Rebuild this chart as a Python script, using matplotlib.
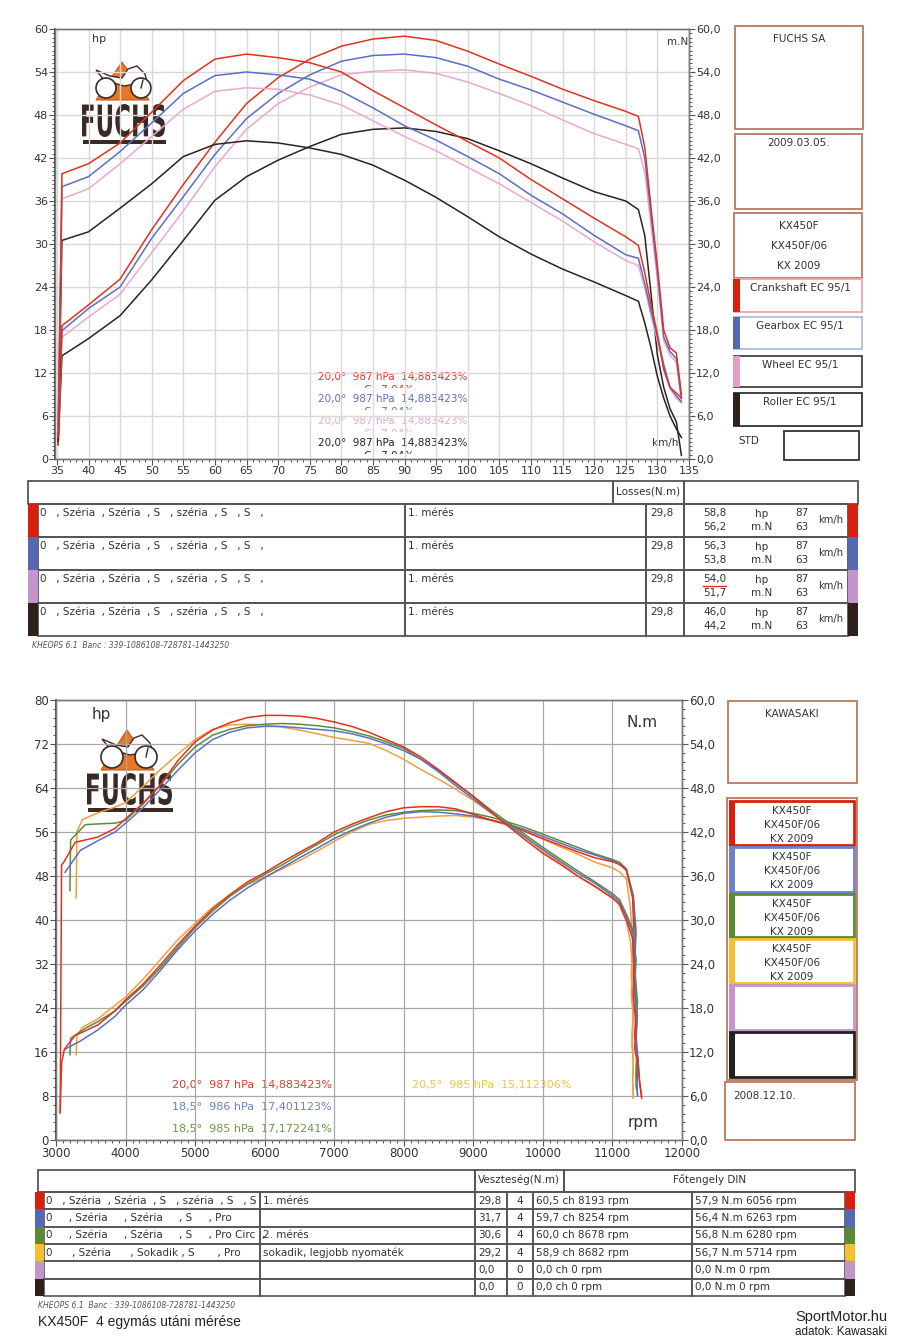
import numpy as np
import matplotlib.pyplot as plt
from matplotlib.patches import Rectangle, Polygon, Circle, PathPatch
from matplotlib.textpath import TextPath
from matplotlib.font_manager import FontProperties
from matplotlib.transforms import Affine2D
from matplotlib.ticker import MultipleLocator, FuncFormatter

# Chart 1 data (km/h, hp on left axis, m.N on right axis)_______________________
kmh = [35.2, 35.8, 40, 45, 50, 55, 60, 65, 70, 75, 80, 85, 90, 95, 100, 105,
       110, 115, 120, 125, 127, 128, 129, 130, 131, 132, 133, 133.8]
hp_crank = [2.0, 18.6, 21.5, 25.1, 32.0, 38.3, 44.2, 49.6, 53.2, 55.8, 57.6, 58.6, 59.0, 58.4,
            56.9, 55.1, 53.4, 51.6, 50.0, 48.5, 47.8, 43.5, 35.0, 27.0, 18.0, 15.5, 14.8, 9.0]
tq_crank = [3.0, 39.8, 41.2, 44.1, 48.4, 52.8, 55.8, 56.5, 56.0, 55.3, 54.0, 51.4, 49.0, 46.6,
            44.3, 42.0, 39.0, 36.3, 33.6, 31.0, 29.8, 26.0, 21.5, 17.5, 12.5, 10.0, 9.2, 8.5]
hp_gear = [3.0, 17.9, 21.0, 24.0, 30.8, 36.6, 42.5, 47.5, 51.0, 53.6, 55.5, 56.3, 56.5, 56.0,
           54.8, 53.0, 51.5, 49.8, 48.1, 46.5, 45.8, 42.0, 34.0, 26.0, 17.0, 15.0, 14.0, 8.5]
tq_gear = [4.5, 38.0, 39.4, 42.9, 46.9, 51.0, 53.5, 54.0, 53.6, 53.0, 51.3, 49.0, 46.5, 44.5,
           42.2, 39.8, 36.8, 34.2, 31.2, 28.5, 28.0, 24.5, 20.6, 17.0, 13.2, 10.0, 8.8, 8.0]
hp_wheel = [3.0, 17.0, 19.8, 23.0, 28.8, 34.6, 40.8, 46.0, 49.6, 51.9, 53.6, 54.1, 54.3, 53.8,
            52.6, 51.0, 49.3, 47.3, 45.4, 43.9, 43.3, 40.0, 32.5, 25.0, 16.5, 14.5, 13.5, 8.0]
tq_wheel = [4.0, 36.3, 37.7, 41.2, 45.0, 48.8, 51.3, 51.8, 51.6, 50.8, 49.4, 47.2, 45.0, 43.0,
            40.7, 38.4, 35.8, 33.2, 30.3, 27.7, 27.0, 23.8, 20.0, 16.5, 12.8, 9.8, 8.5, 7.8]
hp_roller = [2.0, 14.4, 16.8, 20.0, 25.0, 30.5, 36.1, 39.4, 41.7, 43.6, 45.3, 46.0, 46.2, 45.7,
             44.7, 43.0, 41.2, 39.2, 37.3, 36.0, 34.8, 31.2, 23.0, 14.5, 10.0, 7.0, 5.2, 0.5]
tq_roller = [2.5, 30.5, 31.7, 35.0, 38.4, 42.2, 43.9, 44.4, 44.1, 43.4, 42.5, 41.0, 38.9, 36.5,
             33.8, 31.0, 28.6, 26.5, 24.7, 22.8, 22.0, 19.0, 15.5, 11.5, 8.5, 6.0, 4.2, 3.0]

top_names = ["Crankshaft EC 95/1", "Gearbox EC 95/1", "Wheel EC 95/1", "Roller EC 95/1"]
top_hp_max = [58.8, 56.3, 54.0, 46.0]
top_tq_max = [56.2, 53.8, 51.7, 44.2]
top_hp_speed = [87, 87, 87, 87]
top_tq_speed = [63, 63, 63, 63]
top_loss = [29.8, 29.8, 29.8, 29.8]

# Chart 2 data (rpm, ch on left axis, N.m on right axis)________________________
rpm_body = [3600, 3850, 4000, 4250, 4500, 4750, 5000, 5250, 5500, 5750, 6000, 6250, 6500,
            6750, 7000, 7250, 7500, 7750, 8000, 8250, 8500, 8750, 9000, 9250, 9500, 9750,
            10000, 10250, 10500, 10750, 11000, 11100, 11200]

rpm_start_1 = [3060, 3080, 3120, 3275]
rpm_tail_1 = [11290, 11310, 11300, 11340, 11320, 11370, 11390, 11420]
tq_run1 = [3.7, 37.5, 38.0, 40.6,
           41.3, 42.5, 43.8, 45.9, 48.4, 51.7, 54.3, 55.9, 56.9, 57.6, 57.9, 57.9, 57.8, 57.5,
           57.0, 56.4, 55.6, 54.6, 53.6, 52.2, 50.5, 48.7, 46.8, 44.8, 42.8, 40.9, 39.1, 37.6,
           36.0, 34.6, 33.0, 32.2, 30.0,
           27.5, 23.5, 19.5, 15.5, 12.5, 10.0, 8.0, 6.0]
pw_run1 = [5.0, 14.0, 16.5, 19.0,
           20.9, 23.5, 25.5, 28.3, 31.8, 35.5, 38.9, 42.0, 44.6, 46.9, 48.6, 50.5, 52.3, 54.0,
           56.0, 57.4, 58.6, 59.7, 60.4, 60.6, 60.6, 60.2, 59.2, 58.2, 57.4, 56.1, 54.8, 53.6,
           52.4, 51.3, 50.6, 50.1, 49.2,
           44.0, 37.0, 30.0, 24.0, 19.0, 14.5, 10.5, 7.6]

rpm_start_2 = [3130, 3350]
rpm_tail_2 = [11300, 11330, 11320, 11350, 11340, 11370, 11350, 11360]
tq_run2 = [36.5, 39.5,
           40.8, 42.0, 43.2, 45.3, 47.8, 50.4, 52.8, 54.6, 55.6, 56.2, 56.4, 56.4, 56.2, 56.0,
           55.8, 55.4, 54.8, 54.0, 53.1, 51.9, 50.2, 48.3, 46.5, 44.7, 43.0, 41.3, 39.6, 38.0,
           36.4, 35.0, 33.3, 32.5, 30.5,
           28.0, 24.0, 20.0, 16.0, 13.0, 10.0, 8.0, 6.2]
pw_run2 = [16.5, 18.0,
           20.0, 22.5, 24.5, 27.3, 30.8, 34.6, 38.0, 41.0, 43.6, 45.8, 47.7, 49.5, 51.3, 53.0,
           54.8, 56.3, 57.6, 58.7, 59.4, 59.7, 59.6, 59.3, 58.9, 58.2, 57.4, 56.4, 55.2, 54.0,
           52.8, 51.8, 50.8, 50.2, 49.0,
           44.0, 37.0, 30.0, 24.0, 19.0, 14.0, 10.5, 8.0]

rpm_start_3 = [3200, 3210, 3420]
rpm_tail_3 = [11300, 11340, 11320, 11360, 11330, 11350, 11340, 11345]
tq_run3 = [34.0, 40.9, 43.0,
           43.1, 43.2, 43.6, 45.8, 48.4, 51.2, 53.6, 55.2, 56.0, 56.5, 56.7, 56.8, 56.7, 56.5,
           56.2, 55.7, 55.1, 54.3, 53.4, 51.9, 50.4, 48.6, 46.9, 45.0, 43.3, 41.6, 39.9, 38.3,
           36.7, 35.2, 33.6, 32.8, 30.8,
           28.5, 24.5, 21.0, 17.0, 13.5, 11.0, 9.0, 7.0]
pw_run3 = [15.5, 18.5, 20.3,
           21.5, 23.5, 25.2, 28.0, 31.3, 35.0, 38.6, 41.6, 44.3, 46.5, 48.3, 50.0, 51.9, 53.7,
           55.5, 57.0, 58.2, 59.1, 59.6, 59.9, 60.0, 59.9, 59.4, 58.7, 57.8, 56.8, 55.6, 54.4,
           53.2, 52.0, 51.0, 50.5, 49.3,
           44.5, 38.0, 31.5, 25.0, 20.0, 16.0, 12.0, 9.5]

rpm_start_4 = [3290, 3300, 3380]
rpm_tail_4 = [11260, 11290, 11270, 11300, 11280, 11300, 11290, 11300]
tq_run4 = [33.0, 42.0, 43.7,
           44.6, 45.4, 46.0, 48.2, 50.5, 52.6, 54.6, 56.0, 56.6, 56.7, 56.6, 56.3, 55.9, 55.4,
           54.9, 54.5, 54.1, 53.1, 51.9, 50.5, 49.2, 47.8, 46.3, 44.6, 43.0, 41.2, 39.4, 37.8,
           36.0, 34.5, 33.0, 32.0, 29.8,
           27.0, 23.5, 20.0, 16.5, 13.0, 10.5, 8.0, 5.8]
pw_run4 = [15.5, 19.0, 20.5,
           22.0, 24.5, 26.0, 29.2, 32.8, 36.4, 39.4, 42.3, 44.6, 46.4, 47.8, 49.3, 50.8, 52.5,
           54.3, 56.0, 57.4, 58.1, 58.5, 58.7, 58.9, 59.0, 58.7, 58.1, 57.2, 56.0, 54.7, 53.3,
           52.0, 50.5, 49.5, 48.8, 47.5,
           42.0, 36.0, 30.0, 24.0, 19.0, 14.5, 10.5, 7.6]

bot_desc = ["0   , Széria  , Széria  , S   , széria  , S   , S",
            "0     , Széria     , Széria     , S     , Pro",
            "0     , Széria     , Széria     , S     , Pro Circ  ,",
            "0      , Széria      , Sokadik , S       , Pro",
            "", ""]
bot_note = ["1. mérés", "", "2. mérés", "sokadik, legjobb nyomaték", "", ""]
bot_loss = [29.8, 31.7, 30.6, 29.2, 0.0, 0.0]
bot_gear = [4, 4, 4, 4, 0, 0]
bot_pw = [60.5, 59.7, 60.0, 58.9, 0.0, 0.0]
bot_pw_rpm = [8193, 8254, 8678, 8682, 0, 0]
bot_tq = [57.9, 56.4, 56.8, 56.7, 0.0, 0.0]
bot_tq_rpm = [6056, 6263, 6280, 5714, 0, 0]

# Colors_________________________________________________________________________
RED, BLUE, PINK, BLACK = '#e2321f', '#5b6fc4', '#eaa8d0', '#2b2222'
GREEN, ORANGE = '#5b8c38', '#f0a040'
S_RED, S_BLUE, S_LILAC, S_BLACK = '#d8200e', '#5868b0', '#c494cc', '#2e201a'
S_GREEN, S_YELLOW = '#5a8a32', '#f2c030'
BROWN = '#b97a5c'
EDGE = '#555555'
TXT = '#333333'
LOGO = '#3a2a25'

W, H = 900, 1341


def comma(v, nd=1):
    return f"{v:.{nd}f}".replace('.', ',')


def fig_rect(x0, y0, x1, y1):
    return [x0 / W, 1 - y1 / H, (x1 - x0) / W, (y1 - y0) / H]


fig = plt.figure(figsize=(9, 13.41), dpi=100)
ov = fig.add_axes([0, 0, 1, 1], zorder=0)
ov.set_xlim(0, W)
ov.set_ylim(H, 0)
ov.axis('off')


def box(x0, y0, x1, y1, ec=EDGE, lw=1.0, fc='none'):
    ov.add_patch(Rectangle((x0, y0), x1 - x0, y1 - y0, fc=fc, ec=ec, lw=lw))


def txt(x, y, s, fs=7.5, color=TXT, ha='left', va='center', **kw):
    return ov.text(x, y, s, fontsize=fs, color=color, ha=ha, va=va, **kw)


def logo(apex, base_y, bx0, by0, bx1, by1, wheels, r):
    # orange triangle, little bike, FUCHS letters and bar
    ax_, ay_ = apex
    ov.add_patch(Polygon([[ax_, ay_], [ax_ - 26, base_y], [ax_ + 27, base_y]],
                         closed=True, fc='#e8772a', ec='#c85a18', lw=0.8))
    (wx1, wy), (wx2, _) = wheels
    ov.add_patch(Polygon([[wx1 - 10, wy - 18], [wx1 + 4, wy - 12], [wx1 + 16, wy - 10],
                          [wx1 + 22, wy - 19], [wx2 - 4, wy - 22], [wx2 + 4, wy - 14],
                          [wx2 + 6, wy - 6], [wx1 + 18, wy - 2], [wx1 - 2, wy - 8]],
                         closed=True, fc='white', ec=LOGO, lw=1.0))
    for cx in (wx1, wx2):
        ov.add_patch(Circle((cx, wy), r, fc='white', ec=LOGO, lw=1.2))
    ov.plot([wx2, wx2 + 2], [wy, wy - r + 2], color=LOGO, lw=1.0)
    tp = TextPath((0, 0), "FUCHS", size=10,
                  prop=FontProperties(family='DejaVu Sans', weight='bold'))
    bb = tp.get_extents()
    sx = (bx1 - bx0) / bb.width
    sy = (by1 - by0) / bb.height
    tr = Affine2D().translate(-bb.x0, -bb.y0).scale(sx, -sy).translate(bx0, by1)
    ov.add_patch(PathPatch(tr.transform_path(tp), fc=LOGO, ec='none'))
    ov.add_patch(Rectangle((bx0 + 1, by1 + 3), bx1 - bx0, 4, fc=LOGO, ec='none'))


def style_axes(ax, axr, xmaj, xmin, ymaj, ymin, rmaj, rmin, fmt_r, fs):
    ax.xaxis.set_major_locator(MultipleLocator(xmaj))
    ax.xaxis.set_minor_locator(MultipleLocator(xmin))
    ax.yaxis.set_major_locator(MultipleLocator(ymaj))
    ax.yaxis.set_minor_locator(MultipleLocator(ymin))
    axr.yaxis.set_major_locator(MultipleLocator(rmaj))
    axr.yaxis.set_minor_locator(MultipleLocator(rmin))
    axr.yaxis.set_major_formatter(FuncFormatter(fmt_r))
    for a in (ax, axr):
        a.tick_params(which='major', direction='out', length=4, width=0.8, color=EDGE,
                      labelsize=fs, labelcolor=TXT, pad=1)
        a.tick_params(which='minor', direction='out', length=2, width=0.7, color=EDGE)
        for sp in a.spines.values():
            sp.set_color('#777777')
            sp.set_linewidth(1.0)
    ax.spines['left'].set_color('#444444')
    ax.spines['left'].set_linewidth(1.3)


# Chart 1________________________________________________________________________
logo((122, 62), 100, 82, 104, 165, 137, [(106, 88), (141, 88)], 10)

ax1 = fig.add_axes(fig_rect(55, 29, 689, 459), zorder=2)
ax1.set_facecolor('none')
ax1r = ax1.twinx()
ax1r.set_zorder(3)
ax1.set_xlim(34.7, 135)
ax1.set_ylim(0, 60)
ax1r.set_ylim(0, 60)
style_axes(ax1, ax1r, 5, 1, 6, 0.6, 6, 0.6, lambda v, _: comma(v), 8)
ax1.grid(True, which='major', color='#d9d9d9', lw=1.0)
ax1.set_axisbelow(True)

for hp, tq, col in [(hp_roller, tq_roller, BLACK), (hp_wheel, tq_wheel, PINK),
                    (hp_gear, tq_gear, BLUE), (hp_crank, tq_crank, RED)]:
    ax1.plot(kmh, hp, color=col, lw=1.1)
    ax1r.plot(kmh, tq, color=col, lw=1.1)

txt(92, 39, "hp", fs=8)
txt(667, 42, "m.N", fs=7.5)
txt(652, 443, "km/h", fs=7.5)

atm_cols = [RED, BLUE, PINK, BLACK]
for i, c in enumerate(atm_cols):
    y = 377 + i * 22
    txt(318, y, "20,0°  987 hPa  14,883423%", fs=7.5, color=c)
    # second line is cut off in the print-out, only its top shows
    t = txt(364, y + 13, "C   7,04%", fs=7.5, color=c)
    t.set_clip_on(True)
    t.set_clip_path(Rectangle((300, y + 7), 200, 3.5, transform=ov.transData))

# right side boxes chart 1
box(735, 26, 863, 129, ec=BROWN, lw=1.3)
txt(799, 39, "FUCHS SA", ha='center')
box(735, 134, 862, 209, ec=BROWN, lw=1.3)
txt(799, 143, "2009.03.05.", ha='center')
box(734, 213, 862, 278, ec=BROWN, lw=1.3)
for j, s in enumerate(["KX450F", "KX450F/06", "KX 2009"]):
    txt(799, 226 + j * 20, s, ha='center')
top_box_y = [(279, 312), (317, 349), (356, 387), (393, 426)]
top_box_ec = ['#f0a8a8', '#aebde6', '#444444', '#333333']
top_stripes = [S_RED, S_BLUE, '#e7a0c4', S_BLACK]
for (y0, y1), name, ec, sc in zip(top_box_y, top_names, top_box_ec, top_stripes):
    box(734, y0, 862, y1, ec=ec, lw=1.3)
    ov.add_patch(Rectangle((733, y0), 7, y1 - y0, fc=sc, ec='none'))
    txt(800, y0 + 9, name, ha='center')
txt(738, 441, "STD")
box(784, 431, 859, 460, ec='#333333', lw=1.3)

# table chart 1
box(28, 481, 613, 504, lw=1.3)
box(613, 481, 684, 504, lw=1.3)
box(684, 481, 858, 504, lw=1.3)
txt(648, 491, "Losses(N.m)", ha='center')
row_stripes = [S_RED, S_BLUE, S_LILAC, S_BLACK]
for i in range(4):
    y0 = 504 + 33 * i
    y1 = y0 + 33
    for xa, xb in [(38, 405), (405, 646), (646, 684), (684, 848)]:
        box(xa, y0, xb, y1, lw=1.3)
    ov.add_patch(Rectangle((28, y0), 10, 33, fc=row_stripes[i], ec='none'))
    ov.add_patch(Rectangle((848, y0), 10, 33, fc=row_stripes[i], ec='none'))
    txt(40, y0 + 9, "0   , Széria  , Széria  , S   , széria  , S   , S   ,")
    txt(408, y0 + 9, "1. mérés")
    txt(650, y0 + 9, comma(top_loss[i]))
    txt(715, y0 + 9, comma(top_hp_max[i]), ha='center')
    txt(715, y0 + 23, comma(top_tq_max[i]), ha='center')
    txt(762, y0 + 10, "hp", ha='center')
    txt(762, y0 + 23, "m.N", ha='center')
    txt(802, y0 + 9, str(top_hp_speed[i]), ha='center')
    txt(802, y0 + 23, str(top_tq_speed[i]), ha='center')
    txt(831, y0 + 16, "km/h", ha='center', fs=7.2)
ov.plot([703, 726], [586, 586], color=RED, lw=1.0)
txt(32, 645, "KHEOPS 6.1  Banc : 339-1086108-728781-1443250", fs=5.5, color='#555555',
    style='italic')

# Chart 2________________________________________________________________________
logo((127, 730), 770, 87, 773, 172, 805, [(112, 757), (146, 757)], 11)

ax2 = fig.add_axes(fig_rect(56, 700, 682, 1140), zorder=2)
ax2.set_facecolor('none')
ax2r = ax2.twinx()
ax2r.set_zorder(3)
ax2.set_xlim(3000, 12000)
ax2.set_ylim(0, 80)
ax2r.set_ylim(0, 60)
style_axes(ax2, ax2r, 1000, 100, 8, 1.6, 6, 1.2, lambda v, _: comma(v), 8.5)
ax2.grid(True, which='major', color='#a8a8a8', lw=0.9)
ax2.set_axisbelow(True)

runs = [(rpm_start_4, rpm_tail_4, tq_run4, pw_run4, ORANGE),
        (rpm_start_3, rpm_tail_3, tq_run3, pw_run3, GREEN),
        (rpm_start_2, rpm_tail_2, tq_run2, pw_run2, BLUE),
        (rpm_start_1, rpm_tail_1, tq_run1, pw_run1, RED)]
for start, tail, tq, pw, col in runs:
    rpm = start + rpm_body + tail
    ax2r.plot(rpm, tq, color=col, lw=1.1)
    ax2.plot(rpm, pw, color=col, lw=1.1)

txt(92, 714, "hp", fs=11)
txt(627, 722, "N.m", fs=11)
txt(628, 1122, "rpm", fs=11)
txt(172, 1085, "20,0°  987 hPa  14,883423%", fs=8, color='#d8402a')
txt(172, 1107, "18,5°  986 hPa  17,401123%", fs=8, color='#7080c8')
txt(172, 1129, "18,5°  985 hPa  17,172241%", fs=8, color='#6a9a40')
txt(412, 1085, "20,5°  985 hPa  15,112306%", fs=8, color='#f2c440')

# right side boxes chart 2
box(728, 701, 857, 783, ec=BROWN, lw=1.3)
txt(792, 714, "KAWASAKI", ha='center')
box(727, 798, 857, 1080, ec=BROWN, lw=1.3)
leg_y = [800, 846, 893, 938, 984, 1031, 1078]
leg_ec = [S_RED, '#7080c8', S_GREEN, S_YELLOW, S_LILAC, '#222222']
leg_txt = [True, True, True, True, False, False]
for k in range(6):
    y0, y1 = leg_y[k], leg_y[k + 1]
    box(730, y0 + 1, 854, y1 - 1, ec=leg_ec[k], lw=2.0)
    ov.add_patch(Rectangle((729, y0 + 1), 6, y1 - y0 - 2, fc=leg_ec[k], ec='none'))
    if leg_txt[k]:
        for j, s in enumerate(["KX450F", "KX450F/06", "KX 2009"]):
            txt(792, y0 + 11 + j * 14, s, ha='center')
box(725, 1082, 855, 1140, ec=BROWN, lw=1.3)
txt(733, 1096, "2008.12.10.")

# table chart 2
box(38, 1170, 475, 1192, lw=1.3)
box(475, 1170, 564, 1192, lw=1.3)
box(564, 1170, 855, 1192, lw=1.3)
txt(519, 1180, "Veszteség(N.m)", ha='center')
txt(710, 1180, "Főtengely DIN", ha='center')
bot_stripes = [S_RED, S_BLUE, S_GREEN, S_YELLOW, S_LILAC, S_BLACK]
rh = (1296 - 1192) / 6
for i in range(6):
    y0 = 1192 + rh * i
    for xa, xb in [(44, 260), (260, 475), (475, 507), (507, 533), (533, 692), (692, 845)]:
        box(xa, y0, xb, y0 + rh, lw=1.2)
    ov.add_patch(Rectangle((35, y0), 9, rh, fc=bot_stripes[i], ec='none'))
    ov.add_patch(Rectangle((845, y0), 10, rh, fc=bot_stripes[i], ec='none'))
    yc = y0 + rh / 2
    txt(46, yc, bot_desc[i])
    txt(263, yc, bot_note[i])
    txt(478, yc, comma(bot_loss[i]))
    txt(520, yc, str(bot_gear[i]), ha='center')
    txt(536, yc, f"{comma(bot_pw[i])} ch {bot_pw_rpm[i]} rpm")
    txt(695, yc, f"{comma(bot_tq[i])} N.m {bot_tq_rpm[i]} rpm")

txt(38, 1306, "KHEOPS 6.1  Banc : 339-1086108-728781-1443250", fs=5.5, color='#555555',
    style='italic')
txt(38, 1322, "KX450F  4 egymás utáni mérése", fs=10, color='#222222',
    family='Liberation Sans')
txt(887, 1317, "SportMotor.hu", fs=10.5, color='#222222', ha='right',
    family='Liberation Sans')
txt(887, 1332, "adatok: Kawasaki", fs=8.5, color='#222222', ha='right',
    family='Liberation Sans')

fig.savefig("out.png", dpi=100)
